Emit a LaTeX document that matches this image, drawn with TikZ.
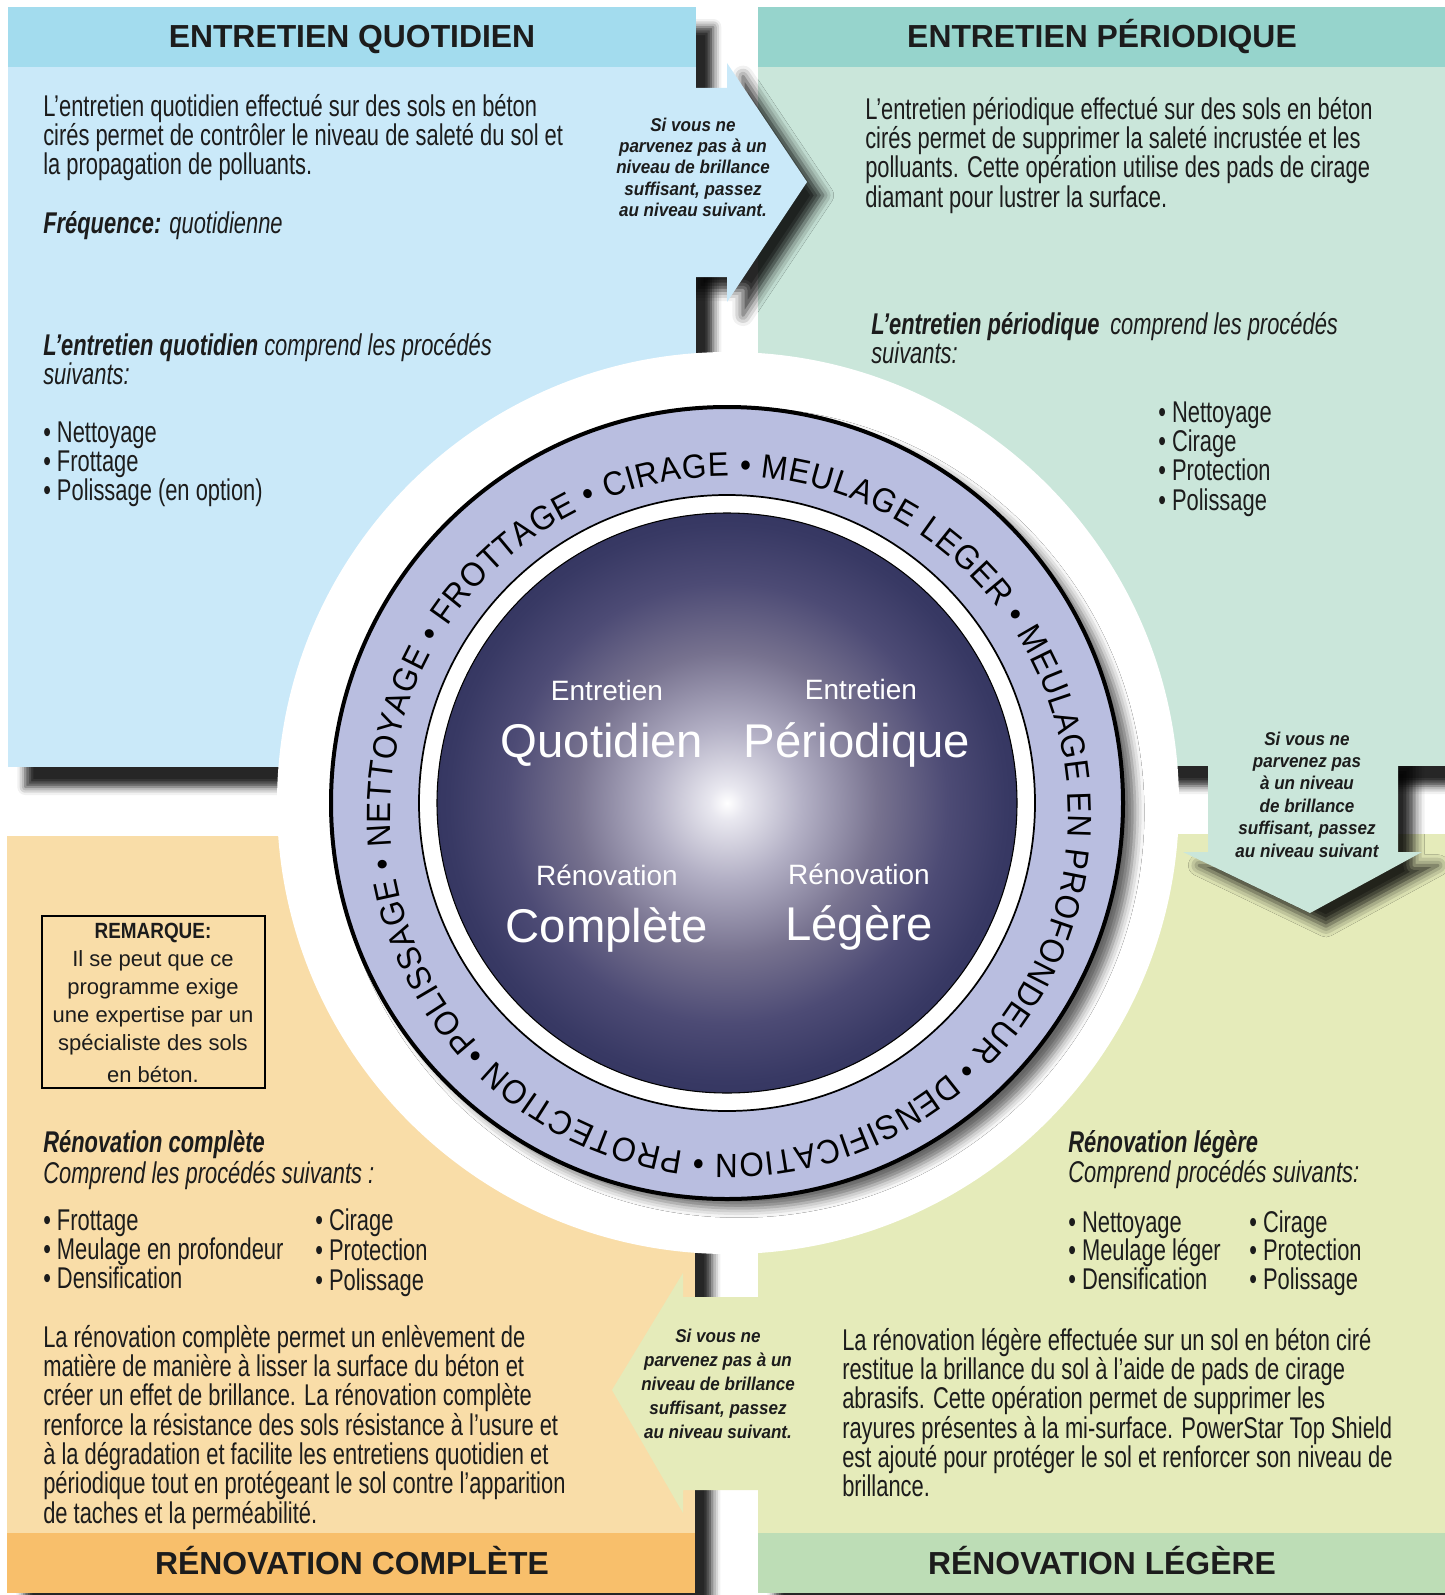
\documentclass[tikz,border=0pt]{standalone}
\usepackage{fontspec}
\setmainfont{Liberation Sans}
\newfontfamily\bodyfont{Liberation Sans}[FakeStretch=0.73]
\newfontfamily\narrowfont{Liberation Sans}[FakeStretch=0.86]
\newfontfamily\captionfont{Liberation Sans}[FakeStretch=0.92]
\newfontfamily\ringface{Liberation Sans}[FakeStretch=0.93]
\usetikzlibrary{shadows.blur,decorations.text}

\definecolor{qhead}{HTML}{A3DCEE}
\definecolor{qbody}{HTML}{CAE9F9}
\definecolor{phead}{HTML}{96D4CC}
\definecolor{pbody}{HTML}{CAE6DA}
\definecolor{cbody}{HTML}{F9DDA8}
\definecolor{cfoot}{HTML}{F8BF6B}
\definecolor{lbody}{HTML}{E5EBBA}
\definecolor{lfoot}{HTML}{BDDDB6}
\definecolor{ringfill}{HTML}{B9BEE0}
\definecolor{ink}{HTML}{1C1C1C}
\definecolor{sphA}{HTML}{E8E7EF}
\definecolor{sphB}{HTML}{B3B0C5}
\definecolor{sphC}{HTML}{77728F}
\definecolor{sphD}{HTML}{4D4B75}
\definecolor{sphE}{HTML}{383964}
\definecolor{sphF}{HTML}{2D2F5A}

% radius of the disc corresponds to about 35bp of the shading
\pgfdeclareradialshading{sphereshade}{\pgfpoint{0bp}{0bp}}{%
  color(0bp)=(white); color(1.5bp)=(sphA); color(6.5bp)=(sphB);
  color(13bp)=(sphC); color(19bp)=(sphD); color(24bp)=(sphE);
  color(29bp)=(sphF); color(50bp)=(sphF)}

\newcommand\para[2]{\parbox[t]{#1}{\raggedright #2}}
\newcommand\cpara[2]{\parbox[t]{#1}{\centering #2}}
\newcommand\ringfont{\ringface\fontsize{25.3pt}{25.3pt}\selectfont}

\tikzset{
  panelshadow/.style={blur shadow={shadow xshift=13pt, shadow yshift=-15pt,
      shadow blur radius=6pt, shadow opacity=85}},
  arrowshadow/.style={blur shadow={shadow xshift=12pt, shadow yshift=-10pt,
      shadow blur radius=8pt, shadow opacity=85}},
  ringshadow/.style={blur shadow={shadow xshift=9pt, shadow yshift=-7pt,
      shadow blur radius=7pt, shadow opacity=60}},
  head/.style={inner sep=0pt, anchor=base, text=ink,
      font=\fontsize{23.9pt}{24pt}\selectfont\bfseries},
  body/.style={inner sep=0pt, anchor=base west, text=ink,
      font=\bodyfont\fontsize{22.5pt}{22.1pt}\selectfont},
  smalllabel/.style={inner sep=0pt, anchor=base, text=white,
      font=\fontsize{21pt}{21pt}\selectfont},
  biglabel/.style={inner sep=0pt, anchor=base, text=white,
      font=\fontsize{35.5pt}{36pt}\selectfont},
  arrowtext/.style={inner sep=0pt, anchor=base, text=ink,
      font=\captionfont\fontsize{13.9pt}{#1}\selectfont\bfseries\itshape},
  notetext/.style={inner sep=0pt, anchor=base, text=ink,
      font=\fontsize{16.5pt}{21pt}\selectfont},
}

\begin{document}
\begin{tikzpicture}[x=0.75pt, y=-0.75pt]
\useasboundingbox (0,0) rectangle (1445,1595);
\clip (0,0) rectangle (1445,1595);

% quadrant panels with their drop shadows
\path[fill=qbody, panelshadow] (8,7) rectangle (696,767);
\path[fill=pbody, panelshadow] (758,7) rectangle (1445,766);
\path[fill=cbody, panelshadow] (7,836) rectangle (695,1593);
\path[fill=lbody, panelshadow] (758,834) rectangle (1445,1593);

% periodic -> light renovation arrow
\path[fill=pbody, arrowshadow] (1208,750) -- (1208,852) -- (1183,852)
  -- (1310,913) -- (1422,852) -- (1398,852) -- (1398,750) -- cycle;
\fill[pbody] (758,7) rectangle (1445,766);
\fill[phead] (758,7) rectangle (1445,67);

% daily -> periodic arrow
\path[fill=qbody, arrowshadow] (680,88) -- (727,88) -- (727,63) -- (807,182)
  -- (727,302) -- (727,277) -- (680,277) -- cycle;
\fill[qbody] (8,7) rectangle (696,767);
\fill[qhead] (8,7) rectangle (696,67);

% light -> full renovation arrow
\path[fill=lbody] (770,1297) -- (683,1297) -- (683,1273) -- (612,1390)
  -- (683,1513) -- (683,1490) -- (770,1490) -- cycle;
\fill[cfoot] (7,1533) rectangle (695,1593);
\fill[lfoot] (758,1533) rectangle (1445,1593);

% central disc
\fill[white] (728,803) circle[radius=451];
\path[fill=ringfill, draw=black, line width=3pt, ringshadow] (727,803) circle[radius=396];
\path[fill=white, draw=black, line width=1.3pt] (727,803) circle[radius=308];
\path[shading=sphereshade, draw=black, line width=0.8pt] (727,803) circle[radius=290];

% process names around the ring
\path[decorate, decoration={text along path, text align={fit to path},
    text={|\ringfont|POLISSAGE • NETTOYAGE • FROTTAGE • CIRAGE • MEULAGE LEGER • MEULAGE EN PROFONDEUR • DENSIFICATION • PROTECTION • }}]
  (478.1,1042.8) arc[start angle=137.8, delta angle=359.5, radius=339];

% labels inside the disc
\node[smalllabel] (cq1) at (607,700) {Entretien};
\node[biglabel]   (cq2) at (602,757) {Quotidien};
\node[smalllabel] (cp1) at (861,699) {Entretien};
\node[biglabel]   (cp2) at (857,757) {Périodique};
\node[smalllabel] (cr1) at (607,885) {Rénovation};
\node[biglabel]   (cr2) at (607,942) {Complète};
\node[smalllabel] (cl1) at (859,884) {Rénovation};
\node[biglabel]   (cl2) at (859,940) {Légère};

% headers and footers
\node[head] (hq) at (352,48) {ENTRETIEN QUOTIDIEN};
\node[head] (hp) at (1102,48) {ENTRETIEN PÉRIODIQUE};
\node[head] (fc) at (352,1574) {RÉNOVATION COMPLÈTE};
\node[head] (fl) at (1102,1574) {RÉNOVATION LÉGÈRE};

% daily maintenance
\node[body] (qdesc) at (43,116) {\para{450pt}{L’entretien quotidien effectué sur des sols en béton\\
  cirés permet de contrôler le niveau de saleté du sol et\\ la propagation de polluants.}};
\node[body] (qfreq) at (43,233) {\textbf{\textit{Fréquence:}} \textit{quotidienne}};
\node[body] (qproc) at (43,355) {\para{450pt}{\textbf{\textit{L’entretien quotidien}} \textit{comprend les procédés}\\ \textit{suivants:}}};
\node[body] (qlist) at (43,442) {\para{300pt}{• Nettoyage\\ • Frottage\\ • Polissage (en option)}};

% periodic maintenance
\node[body] (pdesc) at (865,119) {\para{450pt}{L’entretien périodique effectué sur des sols en béton\\
  cirés permet de supprimer la saleté incrustée et les\\
  polluants. Cette opération utilise des pads de cirage\\ diamant pour lustrer la surface.}};
\node[body] (pproc) at (871,334) {\para{450pt}{\textbf{\textit{L’entretien périodique}}\hspace{8pt}\textit{comprend les procédés}\\ \textit{suivants:}}};
\node[body] (plist) at (1158,422) {\para{200pt}{• Nettoyage\\ • Cirage\\ • Protection\\ • Polissage}};

% full renovation
\draw[line width=1.8pt] (42,916) rectangle (265,1088);
\node[notetext] (note) at (153,938) {\cpara{160pt}{{\narrowfont\bfseries REMARQUE:}\\ Il se peut que ce\\
  programme exige\\ une expertise par un\\ spécialiste des sols\\[3pt] en béton.}};
\node[body] (ctitle) at (43,1152) {\textbf{\textit{Rénovation complète}}};
\node[body] (csub) at (43,1183) {\textit{Comprend les procédés suivants :}};
\node[body] (clista) at (43,1230) {\para{220pt}{• Frottage\\ • Meulage en profondeur\\ • Densification}};
\node[body, font=\bodyfont\fontsize{22.5pt}{22.8pt}\selectfont] (clistb) at (315,1230) {\para{150pt}{• Cirage\\ • Protection\\ • Polissage}};
\node[body, font=\bodyfont\fontsize{22.5pt}{22pt}\selectfont] (cdesc) at (43,1347) {\para{450pt}{La rénovation complète permet un enlèvement de\\
  matière de manière à lisser la surface du béton et\\
  créer un effet de brillance. La rénovation complète\\
  renforce la résistance des sols résistance à l’usure et\\
  à la dégradation et facilite les entretiens quotidien et\\
  périodique tout en protégeant le sol contre l’apparition\\
  de taches et la perméabilité.}};

% light renovation
\node[body] (ltitle) at (1068,1152) {\textbf{\textit{Rénovation légère}}};
\node[body] (lsub) at (1068,1182) {\textit{Comprend procédés suivants:}};
\node[body, font=\bodyfont\fontsize{22.5pt}{21.5pt}\selectfont] (llista) at (1068,1232) {\para{150pt}{• Nettoyage\\ • Meulage léger\\ • Densification}};
\node[body, font=\bodyfont\fontsize{22.5pt}{21.5pt}\selectfont] (llistb) at (1249,1232) {\para{150pt}{• Cirage\\ • Protection\\ • Polissage}};
\node[body, font=\bodyfont\fontsize{22.5pt}{22pt}\selectfont] (ldesc) at (842,1350) {\para{450pt}{La rénovation légère effectuée sur un sol en béton ciré\\
  restitue la brillance du sol à l’aide de pads de cirage\\
  abrasifs. Cette opération permet de supprimer les\\
  rayures présentes à la mi-surface. PowerStar Top Shield\\
  est ajouté pour protéger le sol et renforcer son niveau de\\ brillance.}};

% arrow captions
\node[arrowtext=16.1pt] (ta) at (693,131) {\cpara{130pt}{Si vous ne\\ parvenez pas à un\\ niveau de brillance\\ suffisant, passez\\ au niveau suivant.}};
\node[arrowtext=16.8pt] (tb) at (1307,745) {\cpara{130pt}{Si vous ne\\ parvenez pas\\ à un niveau\\ de brillance\\ suffisant, passez\\ au niveau suivant}};
\node[arrowtext=18pt] (tc) at (718,1342) {\cpara{130pt}{Si vous ne\\ parvenez pas à un\\ niveau de brillance\\ suffisant, passez\\ au niveau suivant.}};
\end{tikzpicture}
\end{document}
